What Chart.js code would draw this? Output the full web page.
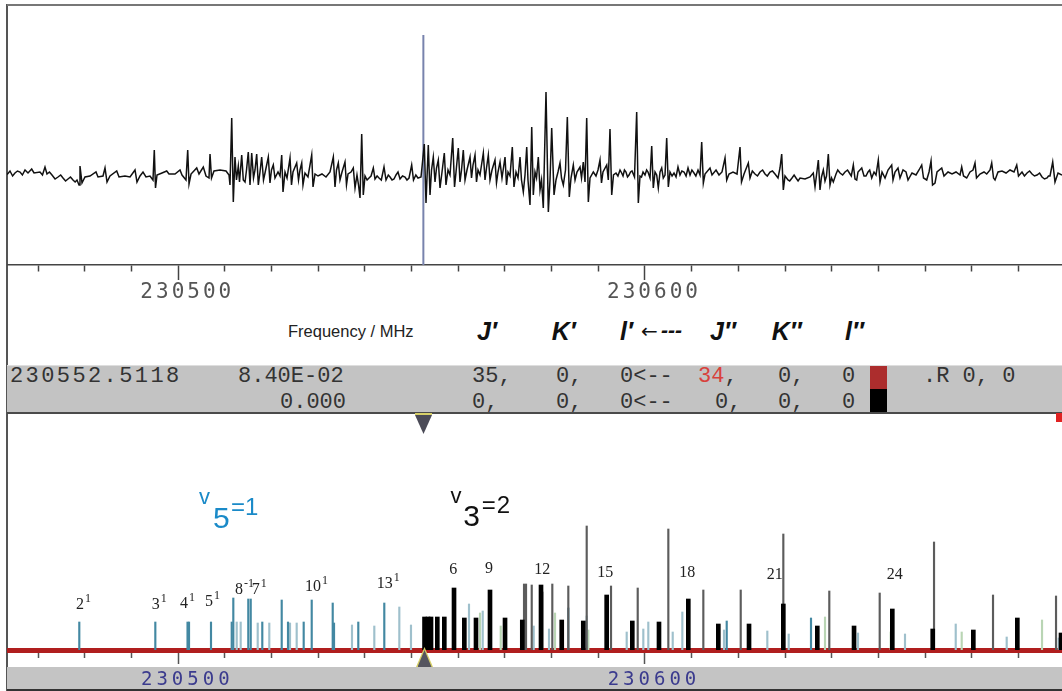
<!DOCTYPE html>
<html>
<head>
<meta charset="utf-8">
<title>v3=2 / v5=1 spectrum near 230.55 GHz</title>
<script src="https://cdn.jsdelivr.net/npm/chart.js@4.4.1/dist/chart.umd.min.js"></script>
<style>
  body { margin: 0; width: 1062px; height: 691px; background: #fff; position: relative; overflow: hidden;
         font-family: "Liberation Sans", Arial, sans-serif; }
  .abs { position: absolute; line-height: 1; white-space: pre; }
  canvas { position: absolute; }
  .band { position: absolute; left: 7px; top: 365px; width: 1055px; height: 46px; background: #c3c3c3;
          border-top: 1px solid #dedede; border-bottom: 2px solid #4a4a4a; }
  .mono { position: absolute; line-height: 1; white-space: pre; font-family: "Liberation Mono", "Courier New", monospace;
          font-size: 22px; color: #333; }
  .hdr { position: absolute; line-height: 1; white-space: pre; font-weight: bold; font-style: italic; font-size: 25px; color: #111; }
  .lab { position: absolute; line-height: 1; white-space: pre; font-family: "Liberation Serif", "Times New Roman", serif;
         font-size: 16px; color: #222; }
  .lab sup { font-size: 12px; vertical-align: 7px; line-height: 0; margin-left: 1px; }
</style>
</head>
<body>

<!-- frame -->
<div class="abs" style="left:6px;top:4px;width:1.5px;height:687px;background:#555;"></div>
<div class="abs" style="left:7px;top:4px;width:1055px;height:1.5px;background:#777;"></div>

<!-- header line under the spectrum -->
<div class="abs" style="left:288px;top:323px;font-size:16.5px;color:#222;">Frequency / MHz</div>
<div class="hdr" style="left:477px;top:318.8px;">J′</div>
<div class="hdr" style="left:551.7px;top:318.8px;">K′</div>
<div class="hdr" style="left:620px;top:318.8px;">l′</div>
<div class="abs" style="left:641px;top:321px;font-family:'DejaVu Sans';font-size:20px;color:#111;">←</div>
<div class="hdr" style="left:661px;top:318.8px;font-size:21px;">---</div>
<div class="hdr" style="left:710px;top:318.8px;">J″</div>
<div class="hdr" style="left:771.7px;top:318.8px;">K″</div>
<div class="hdr" style="left:845px;top:318.8px;">l″</div>

<!-- line information band -->
<div class="band"></div>
<div class="mono" style="left:10px;top:366.4px;letter-spacing:2.4px;">230552.5118</div>
<div class="mono" style="left:238px;top:366.4px;">8.40E-02</div>
<div class="mono" style="left:472px;top:366.4px;">35,</div>
<div class="mono" style="left:556px;top:366.4px;">0,</div>
<div class="mono" style="left:620px;top:366.4px;">0&lt;--</div>
<div class="mono" style="left:698px;top:366.4px;"><span style="color:#d8413c;">34</span>,</div>
<div class="mono" style="left:778px;top:366.4px;">0,</div>
<div class="mono" style="left:842px;top:366.4px;">0</div>
<div class="mono" style="left:923px;top:366.4px;">.R 0, 0</div>
<div class="mono" style="left:280px;top:392.1px;">0.000</div>
<div class="mono" style="left:472px;top:392.1px;">0,</div>
<div class="mono" style="left:556px;top:392.1px;">0,</div>
<div class="mono" style="left:620px;top:392.1px;">0&lt;--</div>
<div class="mono" style="left:715px;top:392.1px;">0,</div>
<div class="mono" style="left:778px;top:392.1px;">0,</div>
<div class="mono" style="left:842px;top:392.1px;">0</div>
<div class="abs" style="left:870px;top:366px;width:17px;height:23px;background:#ac2d2d;"></div>
<div class="abs" style="left:870px;top:389px;width:17px;height:23px;background:#000;"></div>
<div class="abs" style="left:1056px;top:413px;width:6px;height:9px;background:#e02222;"></div>
<div class="abs" style="left:415px;top:413px;width:17px;height:2px;background:#d6cf68;"></div>
<div class="abs" style="left:415px;top:415px;width:17px;height:19px;background:#4b4b57;clip-path:polygon(0 0,100% 0,50% 100%);"></div>

<!-- grey scale band under the stick spectrum -->
<div class="abs" style="left:7px;top:667px;width:1055px;height:22px;background:#c4c4c4;"></div>
<div class="abs" style="left:7px;top:689px;width:1055px;height:2px;background:#333;"></div>

<canvas id="specChart" width="1055" height="300" style="left:7px;top:5px;width:1055px;height:300px;"></canvas>
<canvas id="stickChart" width="1055" height="251" style="left:7px;top:440px;width:1055px;height:251px;"></canvas>

<div class="abs" style="left:416px;top:647px;width:17px;height:20px;background:#d6cf68;clip-path:polygon(50% 0,100% 100%,0 100%);"></div>
<div class="abs" style="left:417.5px;top:650px;width:14px;height:17px;background:#55555f;clip-path:polygon(50% 0,100% 100%,0 100%);"></div>

<!-- state labels -->
<div class="abs" style="left:199px;top:486.4px;font-size:22px;color:#1a8ac8;">v</div>
<div class="abs" style="left:213px;top:502.9px;font-size:30px;color:#1a8ac8;">5</div>
<div class="abs" style="left:231px;top:494.7px;font-size:24px;color:#1a8ac8;">=1</div>
<div class="abs" style="left:450.5px;top:484.7px;font-size:22px;color:#111;">v</div>
<div class="abs" style="left:463.3px;top:501.3px;font-size:30px;color:#111;">3</div>
<div class="abs" style="left:481.7px;top:493px;font-size:24px;color:#111;letter-spacing:1px;">=2</div>

<!-- K labels -->
<div class="lab" style="left:76px;top:596.4px;">2<sup>1</sup></div>
<div class="lab" style="left:151.7px;top:596.4px;">3<sup>1</sup></div>
<div class="lab" style="left:180px;top:594.7px;">4<sup>1</sup></div>
<div class="lab" style="left:205px;top:593.1px;">5<sup>1</sup></div>
<div class="lab" style="left:235px;top:581.4px;">8<sup>-1</sup></div>
<div class="lab" style="left:251.7px;top:581.4px;">7<sup>1</sup></div>
<div class="lab" style="left:305px;top:578.1px;">10<sup>1</sup></div>
<div class="lab" style="left:376.7px;top:574.7px;">13<sup>1</sup></div>
<div class="lab" style="left:449.3px;top:560.7px;">6</div>
<div class="lab" style="left:485px;top:560px;">9</div>
<div class="lab" style="left:534.3px;top:560.7px;">12</div>
<div class="lab" style="left:597.3px;top:564.1px;">15</div>
<div class="lab" style="left:679.3px;top:564.1px;">18</div>
<div class="lab" style="left:766.7px;top:565.7px;">21</div>
<div class="lab" style="left:886.7px;top:565.7px;">24</div>

<script>
// frequency window shared by both panels (MHz)
const freqRange = [230463.30, 230689.35];
const majorTicks = [230500, 230600];
const minorStep = 10;

// cursor frequency and its drawn extent in the observed panel
const markerFreq = 230552.5118;
const markerSpan = [-0.90, 1.40];

// observed spectrum: [frequency MHz, intensity a.u.]
const trace = [
  [230461.80,0.03],[230462.30,-0.01],[230462.87,0.02],[230463.40,0.01],[230463.94,0.04],[230464.50,-0.01],
  [230465.01,0.02],[230465.55,0.04],[230466.09,0.03],[230466.60,0.00],[230467.16,0.05],[230467.80,0.02],
  [230468.59,0.06],[230469.09,0.02],[230470.37,0.03],[230470.90,0.00],[230471.44,0.08],[230471.87,0.01],
  [230472.40,0.03],[230472.94,0.00],[230473.60,-0.04],[230474.23,-0.02],[230474.80,0.00],[230475.30,-0.03],
  [230475.85,-0.06],[230476.37,-0.04],[230476.90,-0.02],[230477.44,-0.05],[230477.90,-0.07],[230478.30,-0.05],
  [230478.73,-0.10],[230478.94,0.09],[230479.37,-0.08],[230480.01,-0.02],[230481.08,-0.01],[230482.37,0.03],
  [230482.80,-0.02],[230483.87,-0.01],[230484.30,0.07],[230484.73,-0.07],[230485.37,-0.01],[230486.81,0.04],
  [230487.30,-0.02],[230488.58,-0.01],[230489.66,-0.02],[230490.73,0.05],[230491.15,-0.07],[230491.80,-0.01],
  [230492.44,0.03],[230493.08,-0.02],[230493.94,-0.01],[230494.58,-0.05],[230494.86,0.25],[230495.12,-0.13],
  [230495.44,0.00],[230496.51,0.02],[230497.52,0.04],[230498.01,0.01],[230499.30,0.01],[230500.37,0.05],
  [230500.80,0.00],[230501.65,-0.05],[230502.02,0.25],[230502.30,-0.09],[230502.73,0.01],[230503.95,0.07],
  [230504.44,0.01],[230505.36,0.08],[230505.94,-0.01],[230506.58,-0.03],[230506.80,0.21],[230507.12,-0.03],
  [230507.65,0.04],[230508.94,0.05],[230510.23,0.04],[230510.87,0.00],[230511.08,-0.10],[230511.45,0.57],
  [230511.79,-0.27],[230512.15,0.18],[230512.47,-0.05],[230512.86,0.09],[230513.12,-0.07],[230513.59,0.20],
  [230513.93,-0.05],[230514.30,-0.07],[230514.62,0.05],[230515.00,0.23],[230515.37,-0.10],[230515.73,0.22],
  [230516.12,-0.03],[230516.44,0.05],[230516.80,0.21],[230517.15,-0.10],[230517.51,0.03],[230517.87,0.18],
  [230518.26,-0.05],[230518.58,0.02],[230519.29,0.18],[230519.65,-0.08],[230519.97,0.05],[230520.36,0.10],
  [230520.72,-0.03],[230521.37,0.03],[230521.80,-0.01],[230522.16,0.20],[230522.44,-0.17],[230522.87,0.03],
  [230523.30,-0.03],[230523.94,0.17],[230524.26,-0.10],[230524.58,0.03],[230525.37,0.12],[230525.76,-0.05],
  [230526.08,0.05],[230526.45,0.12],[230526.72,-0.10],[230527.15,0.02],[230527.79,-0.02],[230528.59,0.20],
  [230528.87,-0.12],[230529.30,0.01],[230529.94,-0.01],[230530.79,0.01],[230531.65,-0.02],[230532.51,0.03],
  [230533.22,0.18],[230533.58,-0.12],[230533.90,0.05],[230534.29,0.12],[230534.65,-0.05],[230535.08,0.03],
  [230535.72,0.13],[230536.04,-0.10],[230536.37,0.01],[230537.01,0.03],[230537.50,0.07],[230537.87,-0.13],
  [230538.29,0.00],[230538.62,-0.10],[230538.94,-0.23],[230539.30,0.41],[230539.64,-0.20],[230540.01,-0.01],
  [230540.45,-0.05],[230540.87,-0.03],[230541.30,-0.01],[230541.79,0.07],[230542.15,-0.04],[230542.60,-0.01],
  [230543.01,-0.03],[230543.50,-0.05],[230544.08,0.08],[230544.51,-0.05],[230545.00,0.00],[230545.37,-0.02],
  [230545.80,-0.05],[230546.22,-0.04],[230546.65,0.00],[230547.08,0.03],[230547.51,-0.04],[230548.05,-0.01],
  [230548.58,-0.02],[230549.00,-0.05],[230549.44,-0.03],[230550.01,0.10],[230550.40,-0.05],[230550.90,0.00],
  [230551.36,-0.03],[230552.01,-0.02],[230552.71,0.31],[230553.08,-0.28],
  [230553.57,0.30],[230553.94,-0.20],[230554.26,0.05],[230554.64,0.18],[230555.01,-0.07],[230555.33,0.07],
  [230555.71,0.15],[230556.08,-0.13],[230556.51,0.03],[230557.00,0.22],[230557.36,-0.10],[230557.79,0.05],
  [230558.22,0.00],[230558.80,0.37],[230559.19,-0.12],[230559.51,0.03],[230560.00,0.27],[230560.36,-0.07],
  [230560.69,0.05],[230561.07,0.25],[230561.44,-0.05],[230561.86,0.05],[230562.51,0.18],[230562.83,-0.03],
  [230563.15,0.10],[230563.58,0.20],[230563.90,-0.07],[230564.22,0.05],[230564.65,0.00],[230565.36,0.22],
  [230565.72,-0.05],[230566.04,0.07],[230566.43,0.20],[230566.79,-0.05],[230567.22,0.05],[230567.86,0.15],
  [230568.18,-0.08],[230568.51,0.03],[230568.94,0.13],[230569.36,-0.03],[230570.01,0.18],[230570.33,-0.10],
  [230570.65,0.03],[230571.08,-0.01],[230571.57,0.28],[230571.93,-0.12],[230572.36,0.03],[230572.79,-0.03],
  [230573.22,0.18],[230573.54,-0.05],[230573.93,-0.17],[230574.29,0.00],[230574.66,0.28],[230574.93,-0.05],
  [230575.36,-0.30],[230575.73,0.48],[230576.07,-0.20],[230576.43,0.03],[230576.76,-0.03],[230577.14,0.18],
  [230577.51,-0.15],[230577.83,-0.05],[230578.21,-0.33],[230578.79,0.83],[230579.29,-0.37],[230579.65,-0.05],
  [230580.01,0.47],[230580.51,-0.20],[230580.93,-0.05],[230581.36,0.03],[230581.79,0.12],[230582.11,-0.03],
  [230582.50,-0.10],[230582.97,0.05],[230583.36,0.58],[230583.78,-0.22],[230584.15,-0.03],[230584.64,0.10],
  [230585.01,-0.05],[230585.43,0.03],[230586.08,0.08],[230586.40,-0.03],[230586.78,0.13],[230587.15,-0.07],
  [230587.51,0.57],[230587.86,-0.27],[230588.22,-0.03],[230588.93,0.03],[230589.50,-0.01],[230589.93,0.05],
  [230590.36,0.15],[230590.68,-0.08],[230591.00,0.03],[230591.80,0.10],[230592.14,-0.05],[230592.50,0.46],
  [230592.87,-0.20],[230593.25,0.00],[230593.79,0.02],[230594.20,-0.01],[230594.65,0.05],[230595.00,0.02],
  [230595.29,-0.01],[230595.60,0.05],[230595.93,0.03],[230596.25,-0.02],[230596.58,0.00],[230596.90,0.03],
  [230597.22,0.04],[230597.75,-0.02],[230598.22,0.63],[230598.57,-0.28],[230598.93,-0.01],[230599.25,-0.02],
  [230599.58,0.03],[230600.00,0.00],[230600.35,0.05],[230600.65,0.03],[230601.08,-0.03],[230601.44,0.29],
  [230601.78,-0.13],[230602.15,0.03],[230602.51,0.00],[230602.85,-0.13],[230603.22,0.03],[230603.58,0.07],
  [230603.92,-0.03],[230604.29,0.00],[230604.65,0.37],[230605.00,-0.12],[230605.36,0.03],[230605.80,-0.01],
  [230606.22,0.02],[230606.65,-0.02],[230607.07,0.08],[230607.50,0.00],[230607.90,0.04],[230608.36,0.03],
  [230608.80,-0.01],[230609.22,0.07],[230609.65,0.00],[230610.05,0.05],[230610.50,0.02],[230610.90,-0.01],
  [230611.36,0.05],[230611.79,0.00],[230612.15,0.33],[230612.50,-0.08],[230612.86,0.01],[230613.93,0.07],
  [230614.36,0.00],[230615.22,0.05],[230615.86,0.00],[230616.50,0.03],[230617.15,0.17],[230617.51,-0.05],
  [230618.00,0.01],[230618.86,0.03],[230619.72,0.01],[230620.36,0.28],[230620.68,-0.07],[230621.22,0.01],
  [230622.14,0.12],[230622.50,-0.03],[230623.00,0.04],[230623.57,0.01],[230624.10,-0.01],[230624.65,0.03],
  [230625.20,0.05],[230625.72,0.01],[230626.20,-0.01],[230626.79,0.03],[230627.30,0.04],[230627.86,0.01],
  [230628.50,-0.03],[230628.93,0.07],[230629.29,0.21],[230629.64,-0.15],[230630.00,-0.01],[230630.64,-0.05],
  [230631.00,-0.06],[230631.50,-0.03],[230631.95,0.00],[230632.36,-0.03],[230632.80,-0.06],[230633.22,-0.03],
  [230634.29,-0.04],[230635.36,-0.02],[230636.06,0.02],[230636.43,-0.12],[230636.75,0.00],[230637.14,0.15],
  [230637.50,-0.15],[230637.82,-0.02],[230638.21,0.05],[230638.57,-0.06],[230638.89,-0.01],[230639.28,0.21],
  [230639.64,-0.10],[230639.97,-0.03],[230640.35,-0.07],[230640.93,0.01],[230641.30,0.05],[230641.79,0.02],
  [230642.35,0.00],[230642.86,0.03],[230643.40,0.05],[230643.93,0.01],[230644.20,-0.01],[230644.64,0.10],
  [230645.00,-0.04],[230645.36,-0.05],[230645.64,0.03],[230646.44,0.07],[230646.93,-0.01],[230647.35,-0.01],
  [230647.79,0.03],[230648.15,0.05],[230648.58,-0.03],[230649.07,0.03],[230649.50,0.00],[230649.99,0.15],
  [230650.36,-0.07],[230650.79,0.03],[230651.43,-0.03],[230652.07,0.05],[230652.86,0.10],[230653.14,-0.05],
  [230653.57,0.03],[230654.21,0.07],[230654.64,-0.03],[230655.29,0.05],[230655.93,0.03],[230656.36,-0.05],
  [230657.21,0.02],[230658.07,0.00],[230658.71,0.05],[230659.29,0.10],[230659.68,-0.03],[230660.36,-0.05],
  [230660.86,0.03],[230661.29,0.14],[230661.61,-0.10],[230662.14,-0.08],[230662.57,0.03],[230663.58,0.07],
  [230664.07,-0.01],[230664.93,0.03],[230665.79,0.01],[230666.64,0.03],[230667.50,0.00],[230667.86,0.08],
  [230668.25,-0.01],[230668.93,-0.03],[230669.64,0.03],[230670.28,0.05],[230670.71,0.12],[230671.03,-0.03],
  [230671.78,0.01],[230672.64,0.03],[230673.22,0.01],[230673.93,0.05],[230674.29,0.12],[230674.68,-0.03],
  [230675.00,-0.05],[230675.64,0.03],[230676.50,0.04],[230677.36,0.02],[230678.21,0.05],[230679.07,0.03],
  [230679.65,0.10],[230680.03,-0.01],[230680.78,0.03],[230681.30,-0.01],[230681.86,0.02],[230682.40,0.04],
  [230682.93,0.01],[230683.45,-0.01],[230684.00,0.00],[230684.55,0.02],[230685.07,-0.02],[230685.60,-0.04],
  [230686.15,-0.03],[230686.45,-0.01],[230686.78,-0.01],[230687.36,0.13],[230687.85,-0.07],[230688.50,0.02],
  [230689.35,0.00]
];

// predicted lines: [frequency MHz, relative intensity]
const v3Lines = [
  [230552.76,0.33],[230553.51,0.33],[230554.15,0.33],[230555.50,0.33],[230557.00,0.33],[230559.08,0.62],
  [230561.29,0.32],[230563.79,0.32],[230566.79,0.60],[230570.01,0.32],[230573.71,0.30],[230577.72,0.65],
  [230582.16,0.30],[230586.78,0.29],[230591.79,0.55],[230597.28,0.29],[230603.00,0.28],[230609.28,0.51],
  [230615.71,0.26],[230622.29,0.26],[230629.64,0.46],[230636.92,0.24],[230644.79,0.24],[230652.99,0.41],
  [230661.65,0.21],[230670.35,0.20],[230679.78,0.32],[230689.14,0.17]
];
const otherLines = [
  [230574.08,0.66],[230574.51,0.66],[230575.73,0.65],[230578.00,0.58],[230580.14,0.66],[230583.57,0.64],
  [230587.51,1.24],[230592.72,0.64],[230598.44,0.62],[230605.00,1.21],[230612.50,0.60],[230620.51,0.60],
  [230629.64,1.16],[230639.49,0.59],[230650.29,0.57],[230661.93,1.08],[230674.57,0.55],[230688.07,0.54]
];
const v5Lines = [
  [230478.79,0.28],[230495.08,0.28],[230501.98,0.28],[230502.30,0.28],[230507.01,0.28],[230511.45,0.28],
  [230511.79,0.52],[230515.00,0.51],[230515.52,0.51],[230518.00,0.28],[230522.16,0.50],[230523.51,0.28],
  [230526.87,0.28],[230528.59,0.50],[230533.09,0.47],[230533.37,0.27],[230538.57,0.28],[230544.14,0.47],
  [230583.57,0.42],[230617.51,0.29],[230635.57,0.32]
];
const weakLines = [
  [230512.52,0.28],[230513.37,0.28],[230517.02,0.27],[230519.50,0.27],[230523.94,0.27],[230525.37,0.27],
  [230537.22,0.25],[230542.00,0.24],[230547.36,0.43],[230549.86,0.25],[230562.29,0.46],[230565.23,0.39],
  [230576.15,0.24],[230579.43,0.21],[230587.51,0.34],[230596.08,0.18],[230599.64,0.21],[230600.71,0.28],
  [230605.94,0.18],[230608.00,0.38],[230616.93,0.20],[230626.21,0.19],[230630.79,0.16],[230645.64,0.17],
  [230655.71,0.16],[230666.58,0.26],[230677.50,0.13],[230688.65,0.12]
];
const greenLines = [
  [230564.65,0.37],[230569.09,0.24],[230580.72,0.37],[230587.86,0.20],[230638.57,0.33],[230652.65,0.18],
  [230667.86,0.18],[230685.07,0.30]
];

function isMajor(v) {
  return majorTicks.includes(Math.round(v));
}

// canvas letter spacing for the wide tick digits
function spacedText(px) {
  return { id: 'spacedText', beforeDraw(chart) { chart.ctx.letterSpacing = px; } };
}

function freqAxis(o) {
  return {
    type: 'linear',
    min: freqRange[0],
    max: freqRange[1],
    offset: false,
    z: o.z || 0,
    afterFit(scale) { scale.height = o.height; },
    border: { display: true, color: o.axisColor, width: o.axisWidth },
    grid: {
      offset: false,
      drawOnChartArea: false,
      tickLength: o.tickLength,
      tickColor: o.tickColor,
      tickWidth: 1.5,
      tickBorderDash: ctx => (ctx.tick && isMajor(ctx.tick.value)) ? [] : [o.minorLength, 40]
    },
    ticks: {
      stepSize: minorStep,
      includeBounds: false,
      autoSkip: false,
      maxRotation: 0,
      minRotation: 0,
      padding: o.padding,
      labelOffset: o.labelOffset,
      color: o.labelColor,
      font: { family: 'DejaVu Sans Mono', size: o.fontSize },
      callback: v => isMajor(v) ? String(Math.round(v)) : ''
    }
  };
}

const baseOptions = {
  responsive: false,
  animation: false,
  devicePixelRatio: 1,
  layout: { padding: 0 },
  plugins: { legend: { display: false }, tooltip: { enabled: false } }
};

// observed spectrum
new Chart(document.getElementById('specChart'), {
  type: 'line',
  data: {
    datasets: [
      {
        data: trace.map(([f, a]) => ({ x: f, y: a })),
        borderColor: '#111', borderWidth: 1.5, pointRadius: 0, tension: 0
      },
      {
        data: markerSpan.map(a => ({ x: markerFreq, y: a })),
        borderColor: '#7883ad', borderWidth: 2, pointRadius: 0
      }
    ]
  },
  options: {
    ...baseOptions,
    scales: {
      x: freqAxis({ height: 40, axisColor: '#444', axisWidth: 1.5, tickLength: 15, minorLength: 6,
                    tickColor: '#444', padding: 0, labelOffset: 9, labelColor: '#555', fontSize: 21 }),
      y: { display: false, min: -0.9, max: 1.7 }
    }
  },
  plugins: [spacedText('3px')]
});

// predicted stick spectrum
function stickSet(rows, color, width) {
  return {
    data: rows.map(([f, h]) => ({ x: f, y: h })),
    backgroundColor: color,
    barThickness: width,
    grouped: false,
    borderWidth: 0
  };
}

new Chart(document.getElementById('stickChart'), {
  type: 'bar',
  data: {
    datasets: [
      stickSet(v3Lines, '#000', 4),
      stickSet(otherLines, '#5c5c5c', 1.5),
      stickSet(v5Lines, '#4388a2', 1.5),
      stickSet(weakLines, '#9fc0cc', 1.5),
      stickSet(greenLines, '#b9d5b4', 1.5)
    ]
  },
  options: {
    ...baseOptions,
    scales: {
      x: freqAxis({ height: 41, axisColor: '#b01e1e', axisWidth: 5, tickLength: 14, minorLength: 5, z: 1,
                    tickColor: '#555', padding: 5, labelOffset: 9, labelColor: '#3b3b8e', fontSize: 19 }),
      y: { display: false, min: 0, max: 2.1 }
    }
  },
  plugins: [spacedText('4px')]
});
</script>
</body>
</html>
